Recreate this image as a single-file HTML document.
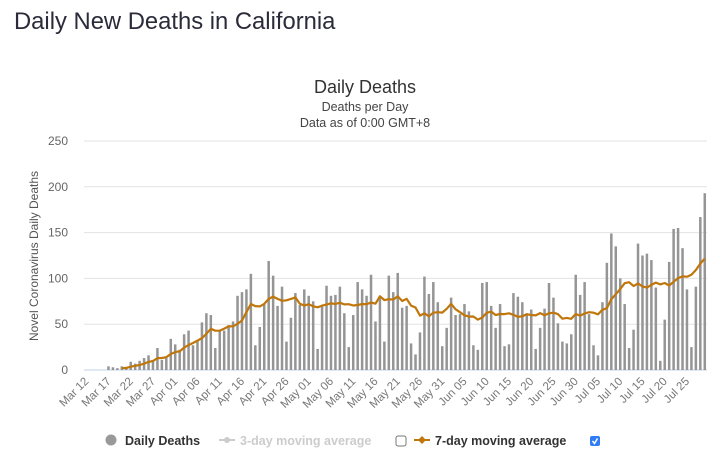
<!DOCTYPE html>
<html><head><meta charset="utf-8">
<style>
body{margin:0;background:#fff;width:726px;height:463px;overflow:hidden;font-family:"Liberation Sans",sans-serif;}
#page-title{position:absolute;left:14px;top:8px;font-size:23.8px;color:#2b2b3b;margin:0;font-weight:normal}
svg{position:absolute;left:0;top:0}
</style></head><body>
<h1 id="page-title">Daily New Deaths in California</h1>
<svg id="chart" width="726" height="463"></svg>
<script>
const startDate = [2020, 2, 12];
const dailyDeaths = [0,0,0,0,0,4,3,2,4,3,9,7,10,13,16,11,24,11,13,34,28,22,39,43,27,32,52,62,60,24,43,43,49,53,81,85,88,105,27,47,72,119,103,70,91,31,57,84,71,88,81,75,23,70,92,81,82,91,62,25,60,96,88,81,104,53,81,31,103,85,106,
68,70,29,17,41,102,83,96,74,26,46,79,60,61,72,64,27,22,95,96,70,46,72,26,28,84,80,74,62,66,23,46,67,95,79,51,31,29,39,104,82,96,61,27,16,74,117,149,135,100,72,24,44,138,125,127,120,90,10,55,118,154,155,133,88,25,91,167,193];
const yTicks = [0,50,100,150,200,250];
const maStart = 8;

const NS='http://www.w3.org/2000/svg';
const svg=document.getElementById('chart');
const L=84,R=707,T=141,B=370,yMax=250;
const n=dailyDeaths.length, step=(R-L)/n;
const xs=i=>L+(i+0.5)*step;
const ys=v=>B-(v/yMax)*(B-T);
function mk(tag,attrs,parent){const e=document.createElementNS(NS,tag);for(const k in attrs)e.setAttribute(k,attrs[k]);(parent||svg).appendChild(e);return e;}
function txt(s,attrs){const e=mk('text',attrs);e.textContent=s;return e;}

let t=txt('Daily Deaths',{x:365,y:93,'text-anchor':'middle','font-size':18,fill:'#333'});


t=txt('Deaths per Day',{x:365,y:111,'text-anchor':'middle','font-size':12.5,fill:'#444'});


t=txt('Data as of 0:00 GMT+8',{x:365,y:127,'text-anchor':'middle','font-size':12.5,fill:'#444'});



yTicks.forEach(v=>{
  const g=mk('line',{x1:L,x2:R,y1:ys(v),y2:ys(v),stroke:v===0?'#c0d0e8':'#e3e3e3','stroke-width':1});
  
  
  const l=txt(String(v),{x:68,y:ys(v)+4,'text-anchor':'end','font-size':12,fill:'#666'});
  
  
});
t=txt('Novel Coronavirus Daily Deaths',{x:0,y:0,'text-anchor':'middle','font-size':12,fill:'#555',transform:'translate(38,256) rotate(-90)'});



const months=['Jan','Feb','Mar','Apr','May','Jun','Jul','Aug'];
dailyDeaths.forEach((v,i)=>{
  if(v>0){const b=mk('rect',{x:xs(i)-1.25,y:ys(v),width:2.5,height:B-ys(v),fill:'#959595'});
  
  }
  if(i%5===0){
    const d=new Date(startDate[0],startDate[1],startDate[2]+i);
    const s=months[d.getMonth()]+' '+String(d.getDate()).padStart(2,'0');
    const l=txt(s,{x:0,y:0,'text-anchor':'end','font-size':11.5,fill:'#777',transform:`translate(${xs(i)+3},${B+12}) rotate(-45)`});
    
    
  }
});
let pts=[];
for(let i=maStart;i<n;i++){let s=0;for(let k=i-6;k<=i;k++)s+=dailyDeaths[k];pts.push(xs(i).toFixed(1)+','+ys(s/7).toFixed(1));}
const ln=mk('polyline',{points:pts.join(' '),fill:'none',stroke:'#c0760a','stroke-width':2.2,'stroke-linejoin':'round'});



// legend
const lg=mk('g',{});


let e=mk('circle',{cx:111,cy:440,r:5.5,fill:'#999'},lg);


e=mk('text',{x:125,y:445,'font-size':12.5,'font-weight':'bold',fill:'#333'},lg);e.textContent='Daily Deaths';


mk('line',{x1:219,x2:235,y1:440,y2:440,stroke:'#ccc','stroke-width':2},lg);
mk('circle',{cx:227,cy:440,r:3,fill:'#ccc'},lg);
e=mk('text',{x:240,y:445,'font-size':12.5,'font-weight':'bold',fill:'#ccc'},lg);e.textContent='3-day moving average';


e=mk('rect',{x:396,y:436,width:10,height:10,rx:2,fill:'#fff',stroke:'#777'},lg);


mk('line',{x1:414,x2:430,y1:440,y2:440,stroke:'#c0760a','stroke-width':2},lg);
mk('path',{d:'M422 436 L426 440 L422 444 L418 440 Z',fill:'#c0760a'},lg);
e=mk('text',{x:435,y:445,'font-size':12.5,'font-weight':'bold',fill:'#333'},lg);e.textContent='7-day moving average';


e=mk('rect',{x:590,y:436,width:10,height:10,rx:2,fill:'#2f7cf6'},lg);


mk('path',{d:'M592.5 441 L594.5 443.5 L597.5 438.5',fill:'none',stroke:'#fff','stroke-width':1.5},lg);
</script>
</body></html>
